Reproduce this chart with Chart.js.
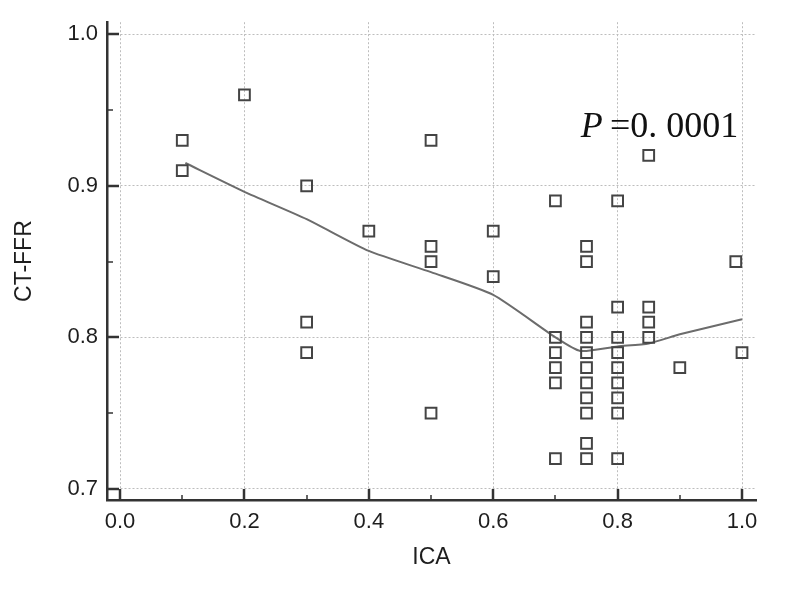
<!DOCTYPE html>
<html lang="en">
<head>
  <meta charset="UTF-8" />
  <title>CT-FFR vs ICA</title>
  <script src="https://cdn.jsdelivr.net/npm/chart.js"></script>
  <style>
    body { margin: 0; background: #fff; }
    #wrap { width: 785px; height: 589px; }
  </style>
</head>
<body>
  <div id="wrap"><canvas id="scatter" width="785" height="589"></canvas></div>

  <script>
    // individual cases (ICA, CT-FFR)
    const icaValues = [
      0.1, 0.1,
      0.2,
      0.3, 0.3, 0.3,
      0.4,
      0.5, 0.5, 0.5, 0.5,
      0.6, 0.6,
      0.7, 0.7, 0.7, 0.7, 0.7, 0.7,
      0.75, 0.75, 0.75, 0.75, 0.75, 0.75, 0.75, 0.75, 0.75, 0.75, 0.75,
      0.8, 0.8, 0.8, 0.8, 0.8, 0.8, 0.8, 0.8, 0.8,
      0.85, 0.85, 0.85, 0.85,
      0.9,
      0.99,
      1.0
    ];
    const ffrValues = [
      0.93, 0.91,
      0.96,
      0.90, 0.81, 0.79,
      0.87,
      0.93, 0.86, 0.85, 0.75,
      0.87, 0.84,
      0.89, 0.80, 0.79, 0.78, 0.77, 0.72,
      0.86, 0.85, 0.81, 0.80, 0.79, 0.78, 0.77, 0.76, 0.75, 0.73, 0.72,
      0.89, 0.82, 0.80, 0.79, 0.78, 0.77, 0.76, 0.75, 0.72,
      0.92, 0.82, 0.81, 0.80,
      0.78,
      0.85,
      0.79
    ];

    // smoothed fit line
    const fitX = [0.105, 0.2, 0.3, 0.4, 0.5, 0.6, 0.7, 0.74, 0.8, 0.85, 0.9, 1.0];
    const fitY = [0.915, 0.896, 0.878, 0.857, 0.843, 0.828, 0.800, 0.791, 0.794, 0.796, 0.802, 0.812];

    const xTicks = [0.0, 0.2, 0.4, 0.6, 0.8, 1.0];
    const xMinorTicks = [0.1, 0.3, 0.5, 0.7, 0.9];
    const yTicks = [0.7, 0.8, 0.9, 1.0];
    const yMinorTicks = [0.75, 0.85, 0.95];

    const pItalic = "P\u2009";
    const pRest = "=0. 0001";
    const pAnchor = { x: 0.994, y: 0.932 };

    const axisColor = "#333";
    const textColor = "#1e1e1e";

    const points = icaValues.map((v, i) => ({ x: v, y: ffrValues[i] }));
    const fitLine = fitX.map((v, i) => ({ x: v, y: fitY[i] }));

    // inward tick marks + P value note
    const extras = {
      id: "extras",
      afterDraw(chart) {
        const ctx = chart.ctx;
        const xs = chart.scales.x, ys = chart.scales.y;
        const area = chart.chartArea;
        ctx.save();
        ctx.strokeStyle = axisColor;

        const xTick = (v, len, w) => {
          const px = Math.round(xs.getPixelForValue(v));
          ctx.lineWidth = w;
          ctx.beginPath();
          ctx.moveTo(px, area.bottom);
          ctx.lineTo(px, area.bottom - len);
          ctx.stroke();
        };
        const yTick = (v, len, w) => {
          const py = Math.round(ys.getPixelForValue(v));
          ctx.lineWidth = w;
          ctx.beginPath();
          ctx.moveTo(area.left, py);
          ctx.lineTo(area.left + len, py);
          ctx.stroke();
        };
        xTicks.forEach(v => xTick(v, 11, 2.5));
        xMinorTicks.forEach(v => xTick(v, 5, 1.5));
        yTicks.forEach(v => yTick(v, 12, 2.5));
        yMinorTicks.forEach(v => yTick(v, 6, 1.5));

        const tx = xs.getPixelForValue(pAnchor.x);
        const ty = ys.getPixelForValue(pAnchor.y);
        ctx.fillStyle = "#111";
        ctx.textBaseline = "alphabetic";
        ctx.textAlign = "right";
        ctx.font = '36px "Liberation Serif", serif';
        ctx.fillText(pRest, tx, ty);
        const w = ctx.measureText(pRest).width;
        ctx.font = 'italic 36px "Liberation Serif", serif';
        ctx.fillText(pItalic, tx - w, ty);
        ctx.restore();
      }
    };

    const tickFont = { family: '"Liberation Sans", Arial, sans-serif', size: 22 };
    const titleFont = { family: '"Liberation Sans", Arial, sans-serif', size: 23 };

    new Chart(document.getElementById("scatter"), {
      type: "scatter",
      data: {
        datasets: [
          {
            label: "Fit",
            data: fitLine,
            showLine: true,
            pointRadius: 0,
            borderColor: "#6c6c6c",
            borderWidth: 2,
            tension: 0.2,
            order: 2
          },
          {
            label: "Cases",
            data: points,
            pointStyle: "rect",
            pointRadius: 7.6,
            pointBorderWidth: 2,
            pointBorderColor: "#444",
            pointBackgroundColor: "rgba(255,255,255,0)",
            order: 1
          }
        ]
      },
      options: {
        responsive: false,
        animation: false,
        layout: { padding: { left: 0, top: 22, right: 29, bottom: 0 } },
        plugins: {
          legend: { display: false },
          tooltip: { enabled: false }
        },
        scales: {
          x: {
            type: "linear",
            min: -0.021,
            max: 1.0225,
            afterBuildTicks: s => { s.ticks = xTicks.map(v => ({ value: v })); },
            afterFit: s => { s.height = 89; },
            ticks: {
              color: textColor,
              font: tickFont,
              padding: 9,
              maxRotation: 0,
              callback: v => v.toFixed(1)
            },
            grid: { color: "#bdbdbd", lineWidth: 1, drawTicks: false },
            border: { display: true, color: axisColor, width: 2.5, dash: [2, 2] },
            title: {
              display: true,
              text: "ICA",
              color: textColor,
              font: titleFont,
              padding: { top: 0, bottom: 18 }
            }
          },
          y: {
            type: "linear",
            min: 0.6927,
            max: 1.0079,
            afterBuildTicks: s => { s.ticks = yTicks.map(v => ({ value: v })); },
            afterFit: s => { s.width = 107; },
            ticks: {
              color: textColor,
              font: tickFont,
              padding: 9,
              callback: v => v.toFixed(1)
            },
            grid: { color: "#bdbdbd", lineWidth: 1, drawTicks: false },
            border: { display: true, color: axisColor, width: 2.5, dash: [2, 2] },
            title: {
              display: true,
              text: "CT-FFR",
              color: textColor,
              font: titleFont,
              padding: { top: 11, bottom: 0 }
            }
          }
        }
      },
      plugins: [extras]
    });
  </script>
</body>
</html>
